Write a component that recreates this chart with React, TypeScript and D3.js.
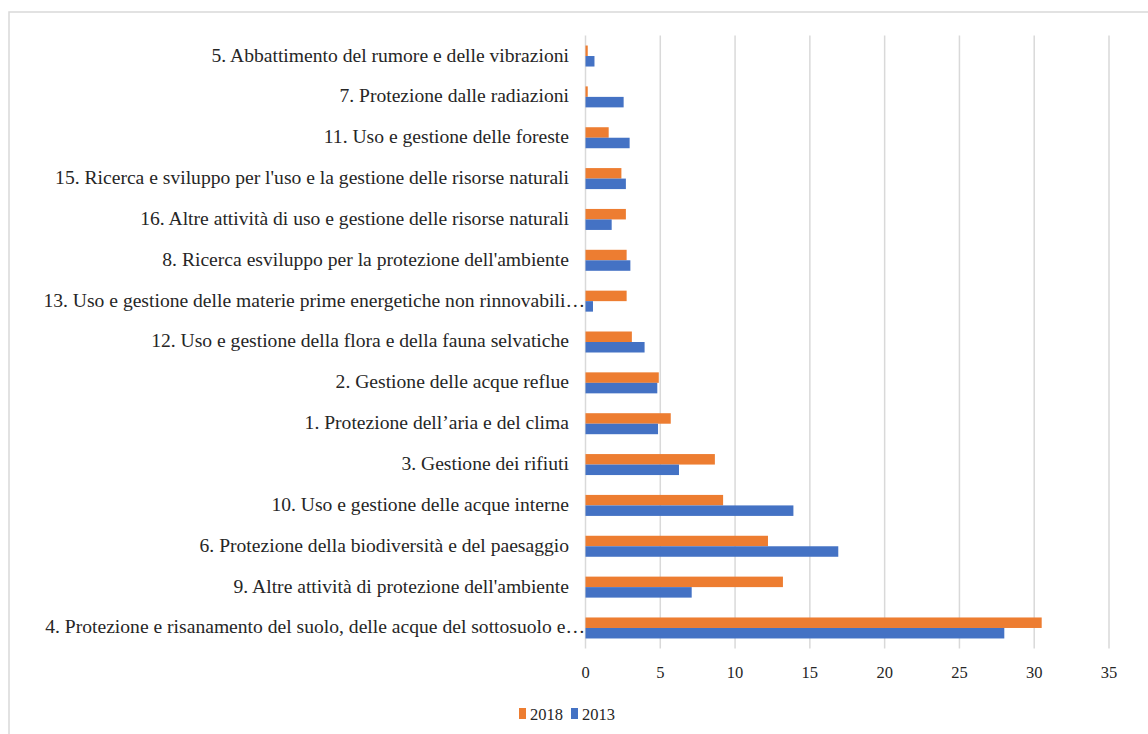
import React, { useRef, useEffect } from 'react';
import * as d3 from 'd3';

// categories top to bottom, as shown in the chart
const categories: string[] = [
  '5. Abbattimento del rumore e delle vibrazioni',
  '7. Protezione dalle radiazioni',
  '11. Uso e gestione delle foreste',
  "15. Ricerca e sviluppo per l'uso e la gestione delle risorse naturali",
  '16. Altre attività di uso e gestione delle risorse naturali',
  "8. Ricerca esviluppo per la protezione dell'ambiente",
  '13. Uso e gestione delle materie prime energetiche non rinnovabili…',
  '12. Uso e gestione della flora e della fauna selvatiche',
  '2. Gestione delle acque reflue',
  '1. Protezione dell’aria  e del clima',
  '3. Gestione dei rifiuti',
  '10. Uso e gestione delle acque interne',
  '6. Protezione della biodiversità e del paesaggio',
  "9. Altre attività di protezione dell'ambiente",
  '4. Protezione e risanamento del suolo, delle acque del sottosuolo e…',
];

const values2018: number[] = [0.15, 0.15, 1.55, 2.4, 2.7, 2.75, 2.75, 3.1, 4.9, 5.7, 8.65, 9.2, 12.2, 13.2, 30.5];
const values2013: number[] = [0.6, 2.55, 2.95, 2.7, 1.75, 3.0, 0.5, 3.95, 4.8, 4.85, 6.25, 13.9, 16.9, 7.1, 28.0];

const seriesNames = ['2018', '2013'];
const seriesColors = ['#ED7D31', '#4472C4'];
const xTicks = [0, 5, 10, 15, 20, 25, 30, 35];

const FONT = "'Liberation Serif', 'Times New Roman', serif";

export default function App() {
  const svgRef = useRef<SVGSVGElement>(null);

  useEffect(() => {
    const width = 1148;
    const height = 734;
    const marginLeft = 585.5;
    const marginRight = 39;
    const marginTop = 35.6;
    const plotBottom = 648.4;

    const svg = d3.select(svgRef.current);
    svg.selectAll('*').remove();
    svg.attr('width', width).attr('height', height)
      .attr('viewBox', [0, 0, width, height].join(' '))
      .style('font-family', FONT);

    svg.append('rect')
      .attr('x', 0).attr('y', 0).attr('width', width).attr('height', height)
      .attr('fill', '#fff');

    // outer frame
    svg.append('rect')
      .attr('x', 9).attr('y', 12).attr('width', 1150).attr('height', 740)
      .attr('fill', 'none').attr('stroke', '#d9d9d9').attr('stroke-width', 1.5);

    const x = d3.scaleLinear().domain([0, 35]).range([marginLeft, width - marginRight]);
    const y = d3.scaleBand<string>().domain(categories)
      .range([marginTop, plotBottom])
      .paddingInner(0.486).paddingOuter(0.243);
    const ySub = d3.scaleBand<string>().domain(seriesNames).range([0, y.bandwidth()]);

    // gridlines
    svg.append('g').selectAll('line').data(xTicks).join('line')
      .attr('x1', d => x(d)).attr('x2', d => x(d))
      .attr('y1', marginTop).attr('y2', plotBottom)
      .attr('stroke', '#d9d9d9').attr('stroke-width', 1.5);

    // tick labels
    svg.append('g').selectAll('text').data(xTicks).join('text')
      .attr('x', d => x(d)).attr('y', 678)
      .attr('text-anchor', 'middle')
      .style('font-family', FONT)
      .attr('font-size', 16.5).attr('fill', '#262626')
      .text(d => d3.format('d')(d));

    // category labels (truncated ones run up to the axis, as in Excel)
    svg.append('g').selectAll('text').data(categories).join('text')
      .attr('x', d => d.endsWith('…') ? 585 : 569)
      .attr('y', d => (y(d) ?? 0) + y.bandwidth() / 2)
      .attr('dy', '0.28em')
      .attr('text-anchor', 'end')
      .style('font-family', FONT)
      .attr('font-size', 19.6).attr('fill', '#262626')
      .text(d => d);

    const series = [values2018, values2013];
    series.forEach((vals, si) => {
      svg.append('g').selectAll('rect').data(categories).join('rect')
        .attr('x', x(0))
        .attr('y', (d) => (y(d) ?? 0) + (ySub(seriesNames[si]) ?? 0))
        .attr('width', (d, i) => x(vals[i]) - x(0))
        .attr('height', ySub.bandwidth())
        .attr('fill', seriesColors[si]);
    });

    // legend
    const legend = svg.append('g').attr('transform', 'translate(519,708)');
    const offsets = [0, 52];
    seriesNames.forEach((name, i) => {
      const g = legend.append('g').attr('transform', `translate(${offsets[i]},0)`);
      g.append('rect').attr('width', 7).attr('height', 11).attr('fill', seriesColors[i]);
      g.append('text').attr('x', 11).attr('y', 12)
        .style('font-family', FONT)
        .attr('font-size', 16.5).attr('fill', '#262626').text(name);
    });
  }, []);

  return (
    <div style={{ width: '100%', height: '100%' }}>
      <svg ref={svgRef} style={{ position: 'absolute', left: 0, top: 0 }}></svg>
    </div>
  );
}
